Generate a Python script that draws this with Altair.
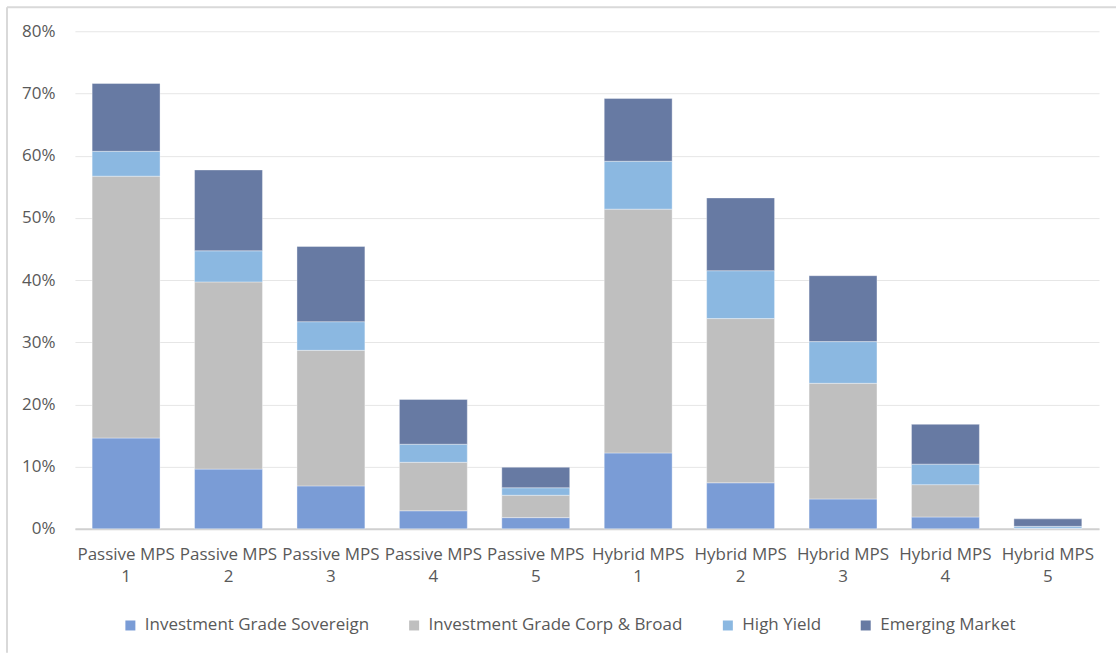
import altair as alt
import pandas as pd

# Portfolio names (the last token goes on a second label line)
portfolios = [
    "Passive MPS 1", "Passive MPS 2", "Passive MPS 3", "Passive MPS 4", "Passive MPS 5",
    "Hybrid MPS 1", "Hybrid MPS 2", "Hybrid MPS 3", "Hybrid MPS 4", "Hybrid MPS 5",
]

# Allocation to each bond bucket, in percent
sovereign = [14.6, 9.6, 6.9, 2.9, 1.8, 12.2, 7.4, 4.8, 1.9, 0.1]
corp_broad = [42.1, 30.1, 21.8, 7.8, 3.6, 39.2, 26.4, 18.6, 5.2, 0.0]
high_yield = [4.0, 5.0, 4.6, 2.9, 1.2, 7.7, 7.7, 6.7, 3.3, 0.3]
emerging = [10.9, 13.0, 12.1, 7.2, 3.3, 10.1, 11.7, 10.6, 6.4, 1.2]

series_names = [
    "Investment Grade Sovereign",
    "Investment Grade Corp & Broad",
    "High Yield",
    "Emerging Market",
]
series_colors = ["#7A9CD6", "#BFBFBF", "#8BB8E1", "#677AA3"]
y_ticks = [0, 0.1, 0.2, 0.3, 0.4, 0.5, 0.6, 0.7, 0.8]

rows = []
for order, (name, vals) in enumerate(
    zip(series_names, [sovereign, corp_broad, high_yield, emerging])
):
    for p, v in zip(portfolios, vals):
        rows.append({"portfolio": p, "series": name, "value": v / 100, "order": order})
df = pd.DataFrame(rows)

FONT = "Open Sans"
GREY = "#595959"

bars = (
    alt.Chart(df)
    .mark_bar(stroke="#ffffff", strokeWidth=0.6, strokeOpacity=0.6)
    .encode(
        x=alt.X(
            "portfolio:N",
            sort=portfolios,
            title=None,
            scale=alt.Scale(paddingInner=0.337, paddingOuter=0.168),
            axis=alt.Axis(
                labelAngle=0,
                labelExpr="[substring(datum.label, 0, length(datum.label) - 2), "
                "substring(datum.label, length(datum.label) - 1)]",
                labelFont=FONT,
                labelFontSize=17,
                labelColor=GREY,
                labelLineHeight=22,
                labelPadding=18,
                labelBaseline="top",
                ticks=False,
                domainColor="#D0D0D0",
                domainWidth=2,
                grid=False,
            ),
        ),
        y=alt.Y(
            "value:Q",
            stack="zero",
            title=None,
            scale=alt.Scale(domain=[0, 0.8], nice=False),
            axis=alt.Axis(
                values=y_ticks,
                format=".0%",
                labelFont=FONT,
                labelFontSize=17,
                labelColor=GREY,
                labelPadding=20,
                ticks=False,
                domain=False,
                gridColor="#E6E6E6",
                gridWidth=1,
            ),
        ),
        color=alt.Color(
            "series:N",
            scale=alt.Scale(domain=series_names, range=series_colors),
            legend=alt.Legend(
                title=None,
                orient="none",
                direction="horizontal",
                legendX=47,
                legendY=586,
                symbolType="square",
                symbolSize=100,
                symbolStrokeWidth=0,
                labelFont=FONT,
                labelFontSize=17,
                labelColor=GREY,
                labelOffset=6,
                labelLimit=0,
                columnPadding=36,
            ),
        ),
        order=alt.Order("order:Q", sort="ascending"),
    )
)

# Thin outer frame of the chart box (top and left edges)
frame_top = alt.Chart(alt.Data(values=[{}])).mark_rule(
    color="#D9D9D9", strokeWidth=2
).encode(x=alt.value(-68), x2=alt.value(1042), y=alt.value(-24))
frame_left = alt.Chart(alt.Data(values=[{}])).mark_rule(
    color="#D9D9D9", strokeWidth=2
).encode(x=alt.value(-68), y=alt.value(-24), y2=alt.value(622))

chart = (
    alt.layer(bars, frame_top, frame_left)
    .properties(
        width=1025,
        height=498,
        padding={"left": 6, "top": 6, "right": 0, "bottom": 0},
        background="white",
    )
    .configure_view(stroke=None)
)

chart.save("out.html", embed_options={"renderer": "svg", "actions": False})
